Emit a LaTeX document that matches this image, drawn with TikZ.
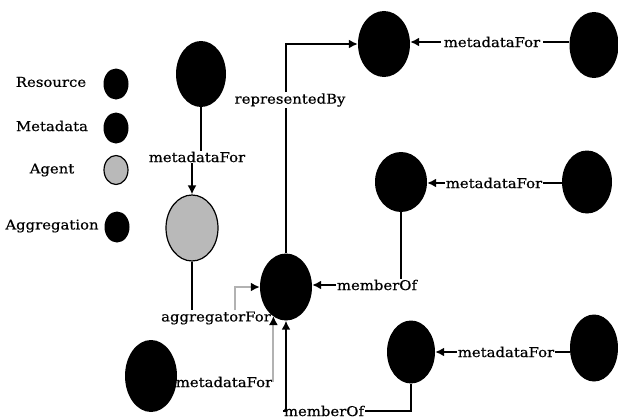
\documentclass[tikz,border=0pt]{standalone}
\usepackage{fontspec}
\setmainfont{DejaVu Serif}[FakeStretch=1.1,FakeBold=0.5]
\usetikzlibrary{shapes.geometric,arrows.meta}
\tikzset{
  blob/.style={ellipse, fill=black, inner sep=0pt, minimum width=50pt, minimum height=66pt},
  legdot/.style={ellipse, fill=black, inner sep=0pt, minimum width=25pt, minimum height=31pt},
  agentfill/.style={fill=gray!55, draw=black, line width=1.2pt},
  lbl/.style={font=\fontsize{13.5}{15}\selectfont, inner sep=1pt},
  link/.style={line width=1.7pt, black},
  arr/.style={link, -{Latex[length=9pt,width=9pt]}},
  glink/.style={line width=2pt, gray!60, -{Latex[length=9pt,width=9pt,color=black]}}
}
\begin{document}
\begin{tikzpicture}[x=1pt,y=-1pt]
\useasboundingbox (0,0) rectangle (618,420);

% legend
\node[lbl] (tRes) at (51,82) {Resource};
\node[lbl] (tMeta) at (52,126) {Metadata};
\node[lbl] (tAgent) at (52,170) {Agent};
\node[lbl] (tAggr) at (52,226) {Aggregation};
\node[legdot] (kRes) at (116,84) {};
\node[legdot] (kMeta) at (116,128) {};
\node[legdot, agentfill, minimum width=24pt, minimum height=29pt] (kAgent) at (116,170) {};
\node[legdot] (kAggr) at (117,227) {};

% nodes
\node[blob, minimum width=50pt, minimum height=66pt] (mA) at (201,74) {};
\node[blob, agentfill, minimum width=52pt, minimum height=66pt] (agent) at (192,228) {};
\node[blob, minimum width=52pt, minimum height=67pt] (aggr) at (286,287) {};
\node[blob, minimum width=52pt, minimum height=72pt] (mB) at (151,376) {};
\node[blob, minimum width=48pt, minimum height=63pt] (mC) at (411,352) {};
\node[blob, minimum width=48pt, minimum height=67pt] (mD) at (594,348) {};
\node[blob, minimum width=52pt, minimum height=60pt] (mE) at (401,182) {};
\node[blob, minimum width=50pt, minimum height=63pt] (mF) at (587,182) {};
\node[blob, minimum width=52pt, minimum height=66pt] (rep) at (384,44) {};
\node[blob, minimum width=49pt, minimum height=66pt] (mG) at (594,45) {};

% edge labels
\node[lbl] (lA) at (197,157) {metadataFor};
\node[lbl] (lAgg) at (216,318) {aggregatorFor};
\node[lbl] (lB) at (224,382) {metadataFor};
\node[lbl] (lMemB) at (324,411) {memberOf};
\node[lbl] (lC) at (506,352) {metadataFor};
\node[lbl] (lE) at (494,183) {metadataFor};
\node[lbl] (lMemE) at (377,285) {memberOf};
\node[lbl] (lG) at (492,42) {metadataFor};
\node[lbl] (lRep) at (290,100) {representedBy};

% connectors
\draw[link] (mA.south) -- (lA.north -| mA);
\draw[arr] (lA.south -| agent) -- (agent.north);

\draw[link] (agent.south) -- (agent.south |- lAgg.north);
\draw[glink] (lAgg.north -| 235,0) -- (235,287) -- (aggr.west |- 0,287);
\draw[glink] (lB.east) -- (lB.east |- 0,316) ;

\draw[arr] (lMemB.west) -| (aggr.south);
\draw[link] (lMemB.east) -| (mC.south);

\draw[arr] (lC.west) -- (mC.east |- lC.west);
\draw[link] (lC.east) -- (mD.west |- lC.east);

\draw[arr] (lE.west) -- (mE.east |- lE.west);
\draw[link] (lE.east) -- (mF.west |- lE.east);
\draw[link] (mE.south) -- (lMemE.north -| mE);
\draw[arr] (lMemE.west) -- (aggr.east |- lMemE.west);

\draw[arr] ([xshift=-2pt]lG.west) -- (rep.east |- lG.west);
\draw[link] ([xshift=2pt]lG.east) -- (mG.west |- lG.east);

\draw[link] (aggr.north) -- (lRep.south -| aggr);
\draw[arr] (lRep.north -| aggr) |- (rep.west);
\end{tikzpicture}
\end{document}
